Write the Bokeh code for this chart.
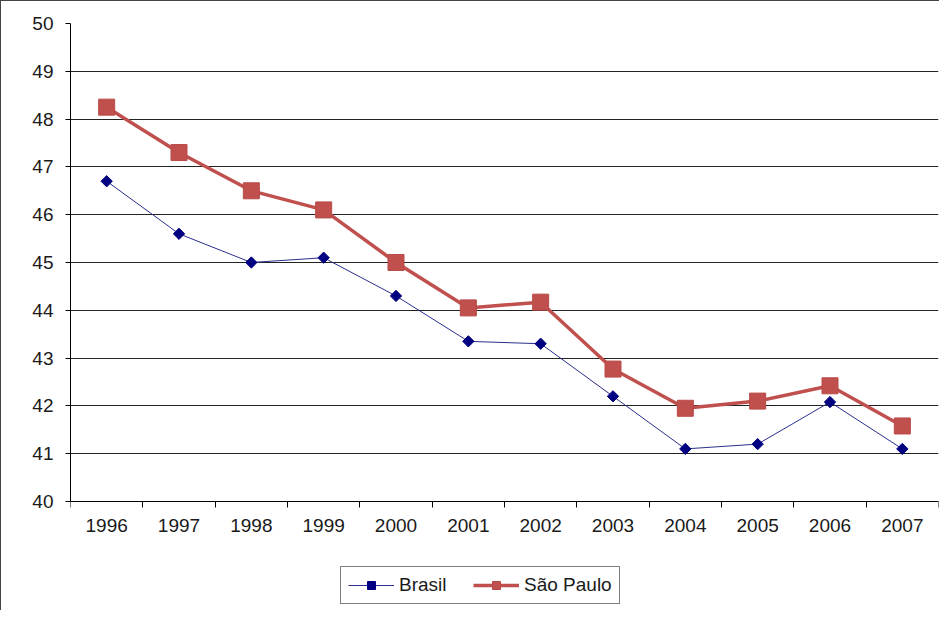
import math
from bokeh.plotting import figure
from bokeh.models import Range1d, FixedTicker, Legend, LegendItem
from bokeh.embed import file_html
from bokeh.resources import INLINE

years = ["1996", "1997", "1998", "1999", "2000", "2001", "2002", "2003", "2004", "2005", "2006", "2007"]
brasil = [46.7, 45.6, 45.0, 45.1, 44.3, 43.35, 43.3, 42.2, 41.1, 41.2, 42.08, 41.1]
sao_paulo = [48.25, 47.3, 46.5, 46.1, 45.0, 44.05, 44.17, 42.77, 41.95, 42.1, 42.42, 41.58]
y_ticks = list(range(40, 51))
y_min, y_max = 40, 50

x = [i + 0.5 for i in range(len(years))]
boundaries = list(range(len(years) + 1))

FONT = "Liberation Sans"
TXT = "#1a1a1a"

# frame extends below the value axis so that the legend can sit inside it
y_view_low = 37.74

p = figure(width=939, height=610, output_backend="svg", toolbar_location=None,
           x_range=Range1d(0, len(years)), y_range=Range1d(y_view_low, y_max),
           min_border_left=69, min_border_right=2, min_border_top=22, min_border_bottom=2)
p.outline_line_color = None
p.background_fill_color = "white"
p.border_fill_color = "white"
p.styles = {"border-left": "1px solid #444", "border-top": "1px solid #444"}

p.xgrid.visible = False
p.ygrid.ticker = FixedTicker(ticks=y_ticks)
p.ygrid.grid_line_color = "#222222"
p.ygrid.grid_line_width = 1

ya = p.yaxis[0]
ya.ticker = FixedTicker(ticks=y_ticks, minor_ticks=[])
ya.bounds = (y_min, y_max)
ya.major_tick_in = 0
ya.major_tick_out = 5
ya.major_tick_line_color = "black"
ya.minor_tick_line_color = None
ya.axis_line_color = "black"
ya.major_label_standoff = 12
ya.major_label_text_font = FONT
ya.major_label_text_font_size = "19px"
ya.major_label_text_color = TXT

xa = p.xaxis[0]
xa.fixed_location = y_min
xa.bounds = (0, len(years))
xa.ticker = FixedTicker(ticks=x, minor_ticks=boundaries)
xa.major_label_overrides = {xi: yr for xi, yr in zip(x, years)}
xa.major_tick_line_color = None
xa.major_tick_out = 0
xa.major_tick_in = 0
xa.minor_tick_in = 0
xa.minor_tick_out = 6
xa.minor_tick_line_color = "black"
xa.axis_line_color = "black"
xa.major_label_standoff = 12
xa.major_label_text_font = FONT
xa.major_label_text_font_size = "19px"
xa.major_label_text_color = TXT

l1 = p.line(x, brasil, line_color="#2A2F8C", line_width=1)
s1 = p.scatter(x, brasil, marker="square", size=8, angle=math.pi / 4,
               fill_color="#000080", line_color="#000080")
l2 = p.line(x, sao_paulo, line_color="#C0504D", line_width=3.5)
s2 = p.scatter(x, sao_paulo, marker="square", size=16, fill_color="#C0504D", line_color="#B94A47")

legend = Legend(items=[LegendItem(label="Brasil", renderers=[l1, s1]),
                       LegendItem(label="São Paulo", renderers=[l2, s2])],
                orientation="horizontal", location=(270, 5),
                border_line_color="black", border_line_width=1,
                label_text_font=FONT, label_text_font_size="19px", label_text_color=TXT,
                glyph_width=46, glyph_height=20, label_height=20, label_width=56,
                spacing=18, padding=7, label_standoff=5, margin=0,
                background_fill_color="white", background_fill_alpha=1)
p.add_layout(legend)

open("out.html", "w").write(file_html(p, INLINE))
